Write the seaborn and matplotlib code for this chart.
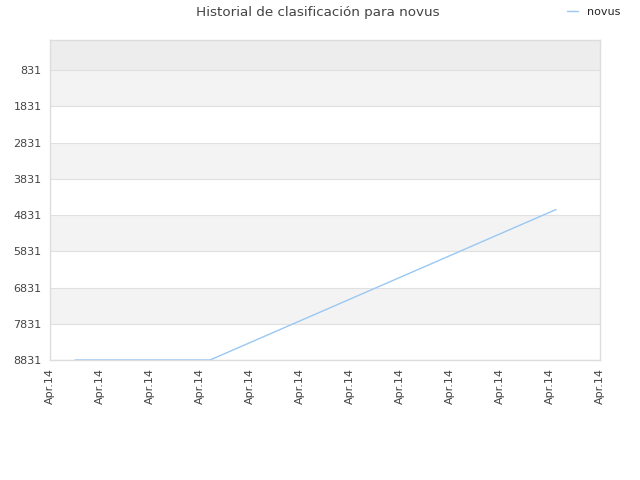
import pandas as pd
import seaborn as sns
from matplotlib import pyplot as plt

# posiciones de fecha (en pasos de tick) y clasificacion
day_pos = [0.5, 3.2, 10.12]
ranking = [8831, 8831, 4680]
tick_labels = ["Apr.14"] * 12
y_ticks = [831, 1831, 2831, 3831, 4831, 5831, 6831, 7831, 8831]

data = pd.DataFrame({"pos": day_pos, "rank": ranking, "serie": "novus"})

sns.set_style("white")
plt.rcParams['font.family'] = ['DejaVu Sans']

fig = plt.figure(figsize=(6.4, 4.8), dpi=100)
ax = fig.add_axes([50 / 640, 1 - 360 / 480, 550 / 640, 320 / 480])

# bandas alternas de fondo
ax.axhspan(3, 831, color="#ededed", zorder=0, lw=0)
for i, lo in enumerate(y_ticks[:-1]):
    if i % 2 == 0:
        ax.axhspan(lo, lo + 1000, color="#f3f3f3", zorder=0, lw=0)
for t in y_ticks:
    ax.axhline(t, color="#e0e0e0", lw=0.8, zorder=1)

sns.lineplot(data=data, x="pos", y="rank", hue="serie", palette=["#99c8f4"],
             linewidth=1, ax=ax, zorder=3)

ax.set_xlim(0, 11)
ax.set_ylim(8831, 3)
ax.set_xticks(range(12))
ax.set_xticklabels(tick_labels, rotation=90, fontsize=8, color="#444444")
ax.set_yticks(y_ticks)
ax.set_yticklabels([str(v) for v in y_ticks], fontsize=8, color="#444444")
ax.tick_params(axis="both", length=0, pad=6)
ax.set_xlabel("")
ax.set_ylabel("")
for s in ax.spines.values():
    s.set_color("#dddddd")
    s.set_linewidth(1)

ax.legend(loc="upper right", bbox_to_anchor=(1.045, 1.118), frameon=False,
          fontsize=8, handlelength=1, borderaxespad=0)
fig.suptitle("Historial de clasificación para novus", x=0.497, y=0.988,
             fontsize=9.7, color="#444444")

fig.savefig("out.png", dpi=100)
